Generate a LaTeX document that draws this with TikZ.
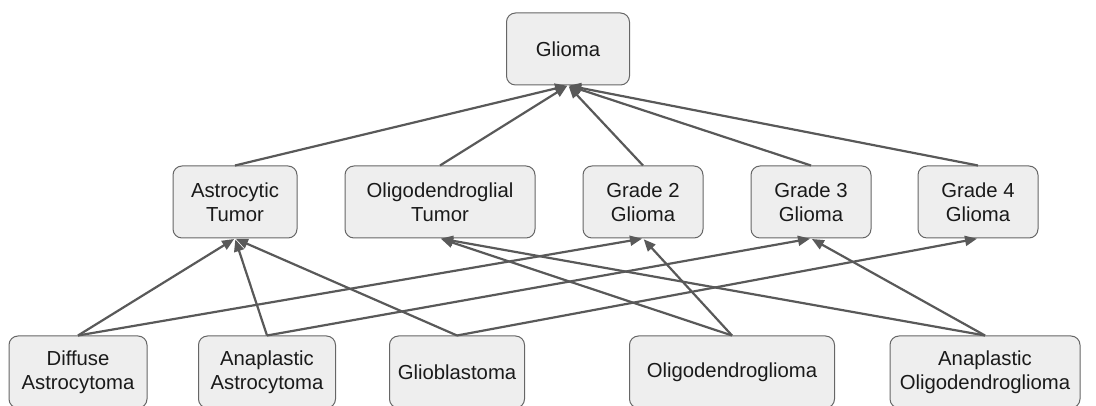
\documentclass[tikz,border=0pt]{standalone}
\usepackage{fontspec}
\setmainfont{Liberation Sans}
\usepackage{xcolor}
\usepackage{tikz}
\usetikzlibrary{arrows.meta}
\definecolor{boxfill}{HTML}{EEEEEE}
\definecolor{boxline}{HTML}{666666}
\definecolor{edgecol}{HTML}{595959}
\definecolor{textcol}{HTML}{1A1A1A}

\begin{document}
\begin{tikzpicture}[x=1pt,y=1pt]
    \tikzstyle{box} = [rectangle, draw=boxline, fill=boxfill, line width=1pt,
        rounded corners=9pt, minimum height=72pt, align=center, inner sep=2pt,
        text=textcol, font=\fontsize{20.3}{24}\selectfont]
    \tikzstyle{isa} = [-{Triangle[length=12pt,width=10pt]}, draw=edgecol, line width=2.2pt, shorten >=1pt]
    \useasboundingbox (0,0) rectangle (1096,406);
        %%% top %%%
        \node[box,minimum width=123pt] (glioma) at (568,357) {Glioma};
        %%% middle row %%%
        \node[box,minimum width=124pt] (astrotumor) at (235,204) {Astrocytic\\Tumor};
        \node[box,minimum width=190pt] (oligotumor) at (440,204) {Oligodendroglial\\Tumor};
        \node[box,minimum width=120pt] (grade2) at (643,204) {Grade 2\\Glioma};
        \node[box,minimum width=120pt] (grade3) at (811,204) {Grade 3\\Glioma};
        \node[box,minimum width=120pt] (grade4) at (978,204) {Grade 4\\Glioma};
        %%% bottom row %%%
        \node[box,minimum width=138pt] (diffastro) at (78,34) {Diffuse\\Astrocytoma};
        \node[box,minimum width=137pt] (anaastro) at (267,34) {Anaplastic\\Astrocytoma};
        \node[box,minimum width=135pt] (gbm) at (457,34) {Glioblastoma};
        \node[box,minimum width=205pt] (oligo) at (732,34) {Oligodendroglioma};
        \node[box,minimum width=190pt] (anaoligo) at (985,34) {Anaplastic\\Oligodendroglioma};
        %%% middle -> top
        \draw[isa] (astrotumor.north) -- (glioma.south);
        \draw[isa] (oligotumor.north) -- (glioma.south);
        \draw[isa] (grade2.north) -- (glioma.south);
        \draw[isa] (grade3.north) -- (glioma.south);
        \draw[isa] (grade4.north) -- (glioma.south);
        %%% bottom -> middle
        \draw[isa] (diffastro.north) -- (astrotumor.south);
        \draw[isa] (diffastro.north) -- (grade2.south);
        \draw[isa] (anaastro.north) -- (astrotumor.south);
        \draw[isa] (anaastro.north) -- (grade3.south);
        \draw[isa] (gbm.north) -- (astrotumor.south);
        \draw[isa] (gbm.north) -- (grade4.south);
        \draw[isa] (oligo.north) -- (oligotumor.south);
        \draw[isa] (oligo.north) -- (grade2.south);
        \draw[isa] (anaoligo.north) -- (oligotumor.south);
        \draw[isa] (anaoligo.north) -- (grade3.south);
\end{tikzpicture}
\end{document}
